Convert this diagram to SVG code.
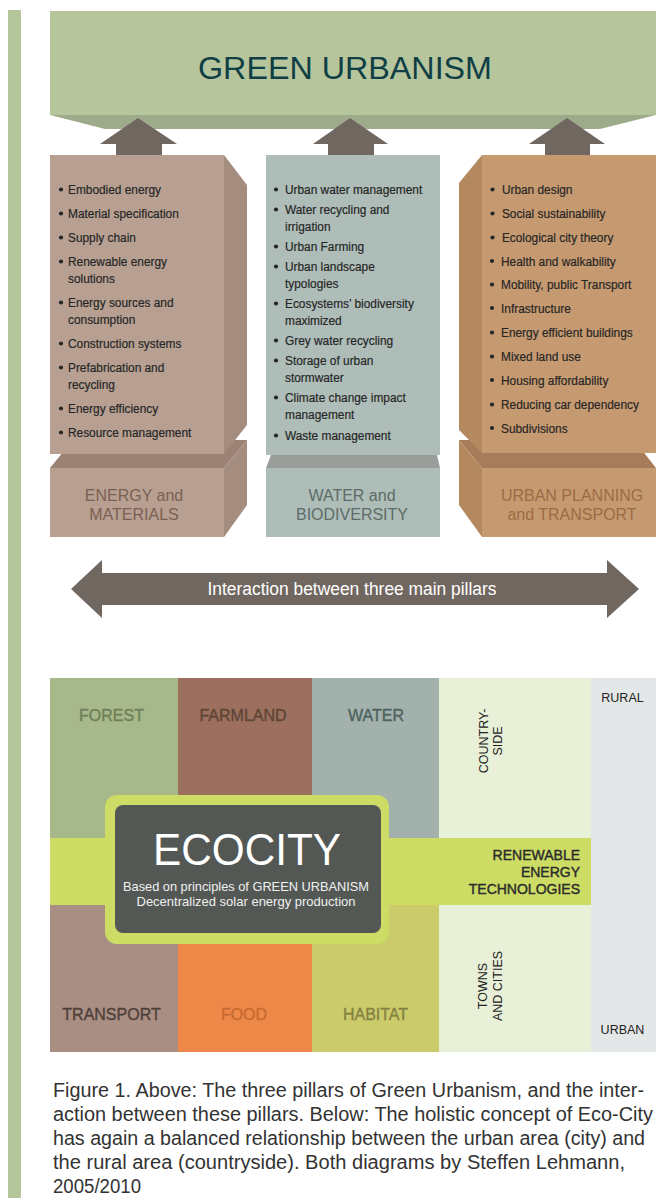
<svg xmlns="http://www.w3.org/2000/svg" width="656" height="1198" viewBox="0 0 656 1198">
<style>
text{font-family:"Liberation Sans",Arial,sans-serif}
.li{font-size:13.5px;fill:#262626;stroke:#262626;stroke-width:0.2}
.bul{fill:#262626}
.lab{font-size:16px;text-anchor:middle}
.cell{font-size:16px;text-anchor:middle;stroke-width:0.35}
.arr{fill:#716761}
.small{font-size:12.5px;fill:#222;text-anchor:middle}
.cap{font-size:19.5px;fill:#333}
</style>
<rect x="8" y="10" width="13" height="1188" fill="#b5c69c"/>

<g id="green-urbanism">
<rect x="50" y="11" width="606" height="104" fill="#b7c59d"/>
<polygon points="50,115 656,115 600,129 105,129" fill="#9eab8b"/>
<text x="345" y="79" font-size="32" fill="#0f3f45" text-anchor="middle" textLength="294" lengthAdjust="spacingAndGlyphs">GREEN URBANISM</text>
</g>

<g id="connectors">
<polygon class="arr" points="138,118 177,144 162,144 162,155 116,155 116,144 100,144"/>
<polygon class="arr" points="350,118 388,144 374,144 374,155 328,155 328,144 313,144"/>
<polygon class="arr" points="567,118 605,144 590,144 590,155 545,155 545,144 529,144"/>
<polygon class="arr" points="71,589 102,560 102,573 607,573 607,560 639,589 607,618 607,605 102,605 102,618"/>
<polygon class="arr" points="626,726 643,741 636,741 636,992 643,992 626,1008 608,992 616,992 616,741 608,741"/>
</g>

<g id="interaction-label">
<text x="352" y="595" font-size="18" fill="#fff" text-anchor="middle" textLength="289" lengthAdjust="spacingAndGlyphs">Interaction between three main pillars</text>
</g>

<g id="energy-materials">
<polygon points="73,440 247,440 224,468 50,468" fill="#9b8274"/>
<rect x="50" y="468" width="174" height="69" fill="#b7a092"/>
<polygon points="224,468 247,440 247,505 224,537" fill="#a48c7e"/>
<rect x="50" y="155" width="174" height="299" fill="#b7a092"/>
<polygon points="224,155 247,185 247,425 224,454" fill="#a48c7e"/>
<g class="bul">
<circle cx="61" cy="189.5" r="2.1"/><circle cx="61" cy="213.5" r="2.1"/><circle cx="61" cy="237.5" r="2.1"/><circle cx="61" cy="261.5" r="2.1"/><circle cx="61" cy="302.5" r="2.1"/><circle cx="61" cy="343.5" r="2.1"/><circle cx="61" cy="367.5" r="2.1"/><circle cx="61" cy="408.5" r="2.1"/><circle cx="61" cy="432.5" r="2.1"/>
</g>
<g transform="translate(68 0) scale(0.88 1)">
<text class="li" x="0" y="194">Embodied energy</text>
<text class="li" x="0" y="218">Material specification</text>
<text class="li" x="0" y="242">Supply chain</text>
<text class="li" x="0" y="266">Renewable energy</text>
<text class="li" x="0" y="283">solutions</text>
<text class="li" x="0" y="307">Energy sources and</text>
<text class="li" x="0" y="324">consumption</text>
<text class="li" x="0" y="348">Construction systems</text>
<text class="li" x="0" y="372">Prefabrication and</text>
<text class="li" x="0" y="389">recycling</text>
<text class="li" x="0" y="413">Energy efficiency</text>
<text class="li" x="0" y="437">Resource management</text>
</g>
<text class="lab" x="134" y="501" fill="#7b5f52">ENERGY and</text>
<text class="lab" x="134" y="520" fill="#7b5f52">MATERIALS</text>
</g>

<g id="water-biodiversity">
<rect x="266" y="155" width="174" height="300" fill="#aebdb8"/>
<polygon points="271,455 437,455 440,468 266,468" fill="#999e9b"/>
<rect x="266" y="468" width="174" height="69" fill="#aebdb8"/>
<g class="bul">
<circle cx="276" cy="189.5" r="2.1"/><circle cx="276" cy="209.5" r="2.1"/><circle cx="276" cy="246.5" r="2.1"/><circle cx="276" cy="266.5" r="2.1"/><circle cx="276" cy="303.5" r="2.1"/><circle cx="276" cy="340.5" r="2.1"/><circle cx="276" cy="360.5" r="2.1"/><circle cx="276" cy="397.5" r="2.1"/><circle cx="276" cy="435.5" r="2.1"/>
</g>
<g transform="translate(285 0) scale(0.88 1)">
<text class="li" x="0" y="194">Urban water management</text>
<text class="li" x="0" y="214">Water recycling and</text>
<text class="li" x="0" y="231">irrigation</text>
<text class="li" x="0" y="251">Urban Farming</text>
<text class="li" x="0" y="271">Urban landscape</text>
<text class="li" x="0" y="288">typologies</text>
<text class="li" x="0" y="308">Ecosystems’ biodiversity</text>
<text class="li" x="0" y="325">maximized</text>
<text class="li" x="0" y="345">Grey water recycling</text>
<text class="li" x="0" y="365">Storage of urban</text>
<text class="li" x="0" y="382">stormwater</text>
<text class="li" x="0" y="402">Climate change impact</text>
<text class="li" x="0" y="419">management</text>
<text class="li" x="0" y="440">Waste management</text>
</g>
<text class="lab" x="352" y="501" fill="#5d6c68">WATER and</text>
<text class="lab" x="352" y="520" fill="#5d6c68">BIODIVERSITY</text>
</g>

<g id="urban-planning-transport">
<polygon points="459,440 634,440 656,468 482,468" fill="#a77c5a"/>
<rect x="482" y="468" width="174" height="69" fill="#c69a71"/>
<polygon points="459,440 482,468 482,537 459,505" fill="#b48960"/>
<rect x="482" y="155" width="174" height="298" fill="#c69a71"/>
<polygon points="482,155 459,183 459,430 482,453" fill="#b48960"/>
<g class="bul">
<circle cx="492.5" cy="189.5" r="2.1"/><circle cx="492.5" cy="213.5" r="2.1"/><circle cx="492.5" cy="237.5" r="2.1"/><circle cx="492" cy="261" r="2.1"/><circle cx="492" cy="284.5" r="2.1"/><circle cx="492" cy="308" r="2.1"/><circle cx="492" cy="332.5" r="2.1"/><circle cx="492" cy="356.5" r="2.1"/><circle cx="492" cy="380" r="2.1"/><circle cx="492" cy="404.5" r="2.1"/><circle cx="492" cy="428" r="2.1"/>
</g>
<g transform="translate(501 0) scale(0.88 1)">
<text class="li" x="1" y="194">Urban design</text>
<text class="li" x="1" y="218">Social sustainability</text>
<text class="li" x="1" y="242">Ecological city theory</text>
<text class="li" x="0" y="266">Health and walkability</text>
<text class="li" x="0" y="289">Mobility, public Transport</text>
<text class="li" x="0" y="313">Infrastructure</text>
<text class="li" x="0" y="337">Energy efficient buildings</text>
<text class="li" x="0" y="361">Mixed land use</text>
<text class="li" x="0" y="385">Housing affordability</text>
<text class="li" x="0" y="409">Reducing car dependency</text>
<text class="li" x="0" y="433">Subdivisions</text>
</g>
<text class="lab" x="572" y="501" fill="#9c6b45">URBAN PLANNING</text>
<text class="lab" x="572" y="520" fill="#9c6b45">and TRANSPORT</text>
</g>

<g id="forest"><rect x="50" y="678" width="128" height="160" fill="#a7b98a"/><text class="cell" x="111.5" y="721" fill="#6f7f59" stroke="#6f7f59">FOREST</text></g>
<g id="farmland"><rect x="178" y="678" width="134" height="160" fill="#9c6f5e"/><text class="cell" x="243" y="721" fill="#5e4536" stroke="#5e4536">FARMLAND</text></g>
<g id="water"><rect x="312" y="678" width="127" height="160" fill="#a2b1ab"/><text class="cell" x="376" y="721" fill="#4e625d" stroke="#4e625d">WATER</text></g>
<g id="countryside"><rect x="439" y="678" width="152" height="160" fill="#e8f0d8"/>
<text class="small" transform="rotate(-90 487.5 741)" x="487.5" y="741">COUNTRY-</text>
<text class="small" transform="rotate(-90 502 741)" x="502" y="741">SIDE</text></g>
<g id="rural-urban"><rect x="591" y="678" width="65" height="374" fill="#e4e7e7"/>
<text class="small" x="622.5" y="702" fill="#2a2a2a">RURAL</text>
<text class="small" x="622.5" y="1034" fill="#2a2a2a">URBAN</text></g>
<g id="renewable-energy"><rect x="50" y="838" width="541" height="67" fill="#cddc64"/>
<g font-size="14" fill="#2b2b2b" stroke="#2b2b2b" stroke-width="0.4" text-anchor="end">
<text x="580" y="860">RENEWABLE</text><text x="580" y="877">ENERGY</text><text x="580" y="894">TECHNOLOGIES</text></g></g>
<g id="transport"><rect x="50" y="905" width="128" height="147" fill="#a98e83"/><text class="cell" x="111.5" y="1020" fill="#4e3f38" stroke="#4e3f38">TRANSPORT</text></g>
<g id="food"><rect x="178" y="905" width="134" height="147" fill="#ee8849"/><text class="cell" x="244" y="1020" fill="#c86a30" stroke="#c86a30">FOOD</text></g>
<g id="habitat"><rect x="312" y="905" width="127" height="147" fill="#cccb6b"/><text class="cell" x="375.5" y="1020" fill="#848242" stroke="#848242">HABITAT</text></g>
<g id="towns-cities"><rect x="439" y="905" width="152" height="147" fill="#e8f0d8"/>
<text class="small" transform="rotate(-90 487 986)" x="487" y="986">TOWNS</text>
<text class="small" transform="rotate(-90 502 986)" x="502" y="986">AND CITIES</text></g>

<g id="ecocity">
<rect x="105" y="795" width="284" height="149" rx="12" fill="#cddc64"/>
<rect x="115" y="805" width="266" height="128" rx="8" fill="#535855"/>
<text x="247" y="865" font-size="44" fill="#fff" text-anchor="middle" textLength="188" lengthAdjust="spacingAndGlyphs">ECOCITY</text>
<text x="246" y="891" font-size="12.8" fill="#f0f0f0" text-anchor="middle" textLength="246" lengthAdjust="spacingAndGlyphs">Based on principles of GREEN URBANISM</text>
<text x="246" y="906" font-size="12.8" fill="#f0f0f0" text-anchor="middle" textLength="219" lengthAdjust="spacingAndGlyphs">Decentralized solar energy production</text>
</g>

<g id="caption">
<text class="cap" x="53" y="1097" textLength="591" lengthAdjust="spacingAndGlyphs">Figure 1. Above: The three pillars of Green Urbanism, and the inter-</text>
<text class="cap" x="53" y="1121" textLength="600" lengthAdjust="spacingAndGlyphs">action between these pillars. Below: The holistic concept of Eco-City</text>
<text class="cap" x="53" y="1145" textLength="592" lengthAdjust="spacingAndGlyphs">has again a balanced relationship between the urban area (city) and</text>
<text class="cap" x="53" y="1169" textLength="572" lengthAdjust="spacingAndGlyphs">the rural area (countryside). Both diagrams by Steffen Lehmann,</text>
<text class="cap" x="53" y="1193" textLength="88" lengthAdjust="spacingAndGlyphs">2005/2010</text>
</g>
</svg>
